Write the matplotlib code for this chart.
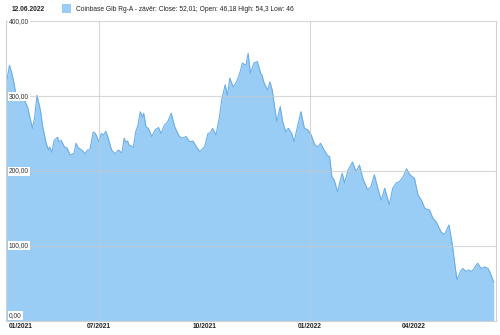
import matplotlib
matplotlib.use('Agg')
import matplotlib.pyplot as plt
import numpy as np
import pandas as pd

# days after the first trading day and the close price
start_date = '2021-04-11'
days = [0, 1, 3, 5, 7, 9, 11, 15, 19, 23, 25, 27, 30, 32, 35, 37, 38, 40, 42, 45,
        46, 48, 51, 53, 56, 58, 59, 61, 63, 66, 69, 71, 73, 76, 78, 81, 83, 85, 87, 89,
        92, 95, 98, 101, 103, 104, 106, 107, 111, 113, 115, 117, 119, 120, 122, 124, 127, 130, 133, 135,
        138, 141, 144, 147, 151, 154, 157, 160, 163, 166, 169, 173, 176, 178, 180, 183, 186, 188, 190, 191,
        193, 195, 198, 201, 204, 206, 209, 211, 213, 216, 219, 222, 223, 225, 228, 230, 232, 234, 236, 239,
        241, 244, 246, 249, 251, 254, 257, 260, 263, 266, 269, 272, 274, 278, 280, 282, 284, 286, 289, 291,
        293, 295, 298, 302, 305, 308, 311, 315, 318, 321, 324, 327, 330, 334, 337, 340, 343, 346, 349, 352,
        356, 359, 362, 365, 369, 372, 375, 379, 382, 386, 389, 391, 393, 396, 398, 401, 403, 406, 411, 414,
        417, 420, 422, 425]
close = [328, 323, 341, 331, 317, 299, 295, 299, 284, 257, 272, 301, 281, 259, 237, 228, 232, 225, 241, 245,
         239, 241, 232, 231, 221, 223, 222, 237, 231, 228, 223, 228, 228, 252, 250, 239, 250, 248, 253, 244,
         228, 223, 228, 224, 244, 239, 240, 235, 232, 252, 261, 279, 272, 277, 259, 257, 246, 255, 258, 250,
         261, 266, 277, 259, 246, 244, 246, 239, 240, 232, 226, 232, 250, 251, 257, 248, 272, 295, 308, 315,
         301, 324, 312, 319, 332, 344, 341, 357, 330, 344, 346, 330, 328, 317, 308, 319, 308, 286, 266, 286,
         266, 252, 257, 250, 239, 259, 279, 257, 255, 248, 235, 232, 237, 226, 221, 219, 192, 188, 172, 186,
         197, 184, 201, 212, 199, 208, 190, 175, 179, 195, 177, 161, 177, 155, 177, 184, 186, 192, 203, 195,
         190, 168, 161, 150, 148, 137, 132, 119, 115, 128, 101, 77, 55, 66, 70, 66, 68, 66, 77, 70,
         72, 70, 64, 52]

tick_dates = ['2021-07-01', '2021-10-01', '2022-01-01', '2022-04-01']
tick_labels = ['07/2021', '10/2021', '01/2022', '04/2022']
y_ticks = [0, 100, 200, 300, 400]
legend_date = '12.06.2022'
legend_text = 'Coinbase Glb Rg-A - závěr: Close: 52,01; Open: 46,18 High: 54,3 Low: 46'

plt.rcParams['font.family'] = ['Liberation Sans', 'DejaVu Sans']

dates = pd.Timestamp(start_date) + pd.to_timedelta(days, unit='D')

fig = plt.figure(figsize=(5, 3.35), dpi=100)
ax = fig.add_axes([0.012, 0.042, 0.98, 0.895])

fill_color = '#99cdf6'
line_color = '#6aaee9'
ax.fill_between(dates, close, 0, color=fill_color, lw=0, zorder=1)
ax.plot(dates, close, color=line_color, lw=0.8, zorder=2)

ax.set_ylim(0, 400)
ax.set_xlim(dates[0], dates[-1] + pd.Timedelta(days=2))

# horizontal grid
for v in y_ticks[1:]:
    ax.axhline(v, color='#c8c8c8', lw=0.8, alpha=0.7, zorder=3)
# vertical grid only at half-year marks
for d in ['2021-07-01', '2022-01-01']:
    ax.axvline(pd.Timestamp(d), color='#c8c8c8', lw=0.8, alpha=0.7, zorder=3)

for s in ['left', 'right']:
    ax.spines[s].set_color('#d0d0d0')
    ax.spines[s].set_linewidth(0.8)
ax.spines['top'].set_visible(False)
ax.spines['bottom'].set_color('#d0d0d0')

ax.set_yticks([])
ax.set_xticks([])

for v in y_ticks:
    ax.text(0.006, v + (2 if v == 0 else 0), f'{v:.2f}'.replace('.', ','),
            transform=ax.get_yaxis_transform(),
            ha='left', va='bottom' if v == 0 else 'center', fontsize=4.8,
            color='#333333', zorder=5,
            bbox=dict(boxstyle='square,pad=0.15', fc='white', ec='none'))

# x labels
ax.text(dates[0] + pd.Timedelta(days=2), -8, '01/2021', ha='left', va='center',
        fontsize=4.8, fontweight='bold', color='#222222', clip_on=False)
for d, lab in zip(tick_dates, tick_labels):
    ax.text(pd.Timestamp(d), -8, lab, ha='center', va='center',
            fontsize=4.8, fontweight='bold', color='#222222', clip_on=False)

# legend header
fig.text(0.024, 0.973, legend_date, ha='left', va='center', fontsize=4.8,
         fontweight='bold', color='#222222')
fig.patches.append(plt.Rectangle((0.124, 0.961), 0.018, 0.027, transform=fig.transFigure,
                                 fc=fill_color, ec='none'))
fig.text(0.152, 0.973, legend_text, ha='left', va='center', fontsize=4.8, color='#222222')

fig.savefig('out.png', dpi=100)
